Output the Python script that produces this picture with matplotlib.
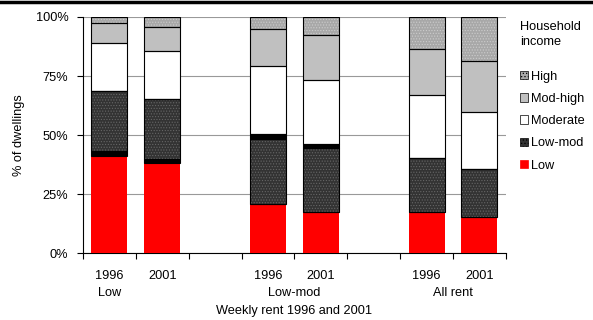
import numpy as np
import matplotlib
matplotlib.use('Agg')
import matplotlib.pyplot as plt
from matplotlib.patches import Patch
from matplotlib.lines import Line2D

plt.rcParams.update({
    'font.family': ['Liberation Sans', 'DejaVu Sans'],
    'font.size': 9.2,
    'hatch.linewidth': 0.5,
})

# ─── Data (percent of dwellings) ─────────────────────────────────────────────
years = ['1996', '2001', '', '1996', '2001', '', '1996', '2001']
groups = ['Low', 'Low-mod', 'All rent']
group_pos = [0, 3.5, 6.5]
slot = np.arange(8)
bar_slots = [0, 1, 3, 4, 6, 7]

low      = [41.3, 38.0, 20.6, 17.6, 17.6, 15.3]
band_a   = [1.8,  2.0,  0.0,  0.0,  0.0,  0.0]   # unlabelled black band
low_mod  = [25.5, 25.1, 27.9, 26.8, 22.7, 20.4]
band_b   = [0.0,  0.0,  2.0,  1.7,  0.0,  0.0]   # unlabelled black band
moderate = [20.2, 20.3, 28.6, 27.4, 26.8, 24.0]
mod_high = [8.5,  10.2, 15.7, 18.7, 19.2, 21.7]
high     = [2.7,  4.4,  5.2,  7.8,  13.7, 18.6]

# (values, facecolor, hatch, hatch colour, legend label)
series = [
    (low,      '#ff0000', None,   None,      'Low'),
    (band_a,   '#000000', None,   None,      None),
    (low_mod,  '#333333', '......', '#666666', 'Low-mod'),
    (band_b,   '#000000', None,   None,      None),
    (moderate, '#ffffff', None,   None,      'Moderate'),
    (mod_high, '#c0c0c0', None,   None,      'Mod-high'),
    (high,     '#a8a8a8', '......', '#cccccc', 'High'),
]

fig = plt.figure(figsize=(5.93, 3.2), dpi=100)
ax = fig.add_axes([0.140, 0.209, 0.713, 0.738])

w = 0.68
bottom = np.zeros(len(bar_slots))
for vals, fc, hatch, hc, lbl in series:
    vals = np.array(vals)
    if hatch:
        ax.bar(bar_slots, vals, w, bottom=bottom, color=fc, hatch=hatch,
               edgecolor=hc, lw=0, zorder=3)
    else:
        ax.bar(bar_slots, vals, w, bottom=bottom, color=fc, lw=0, zorder=3)
    if fc != '#ff0000':
        ax.bar(bar_slots, vals, w, bottom=bottom, fill=False,
               edgecolor='black', lw=0.8, zorder=4)
    bottom += vals

ax.set_xlim(-0.5, 7.5)
ax.set_ylim(0, 100)
ax.set_yticks([0, 25, 50, 75, 100])
ax.set_yticklabels(['0%', '25%', '50%', '75%', '100%'])
ax.set_xticks(np.arange(-0.5, 8, 1))
ax.set_xticklabels([])
ax.tick_params(axis='both', direction='out', length=4.5, width=0.8, color='black')
ax.tick_params(axis='y', pad=6)
ax.yaxis.grid(True, color='#999999', lw=0.8, zorder=0)
ax.set_axisbelow(True)
for s in ['top', 'right']:
    ax.spines[s].set_visible(False)
for s in ['left', 'bottom']:
    ax.spines[s].set_linewidth(0.8)

trans = ax.get_xaxis_transform()
for x, yr in zip(slot, years):
    if yr:
        ax.text(x, -0.095, yr, transform=trans, ha='center', va='center')
for x, g in zip(group_pos, groups):
    ax.text(x, -0.168, g, transform=trans, ha='center', va='center')
ax.text(3.5, -0.245, 'Weekly rent 1996 and 2001', transform=trans,
        ha='center', va='center')
ax.set_ylabel('% of dwellings', labelpad=8)

handles = []
for vals, fc, hatch, hc, lbl in reversed(series):
    if lbl is None:
        continue
    if hatch:
        handles.append(Patch(facecolor=fc, hatch='.....', edgecolor='black', lw=0.5, label=lbl))
    else:
        handles.append(Patch(facecolor=fc, edgecolor='black' if fc != '#ff0000' else fc,
                             lw=0.5, label=lbl))
leg = fig.legend(handles=handles, title='Household\nincome', loc='upper left',
                 bbox_to_anchor=(0.866, 0.955), frameon=False, borderpad=0,
                 handlelength=0.65, handleheight=0.65, handletextpad=0.2,
                 labelspacing=0.8, alignment='left', fontsize=9.2,
                 title_fontsize=9.2)
leg.get_title().set_linespacing(1.4)
leg._legend_box.sep = 16

# thick rule along the top of the figure
fig.add_artist(Line2D([0, 1], [0.995, 0.995], transform=fig.transFigure,
                      color='black', lw=2.5))

fig.savefig('out.png', dpi=100)
